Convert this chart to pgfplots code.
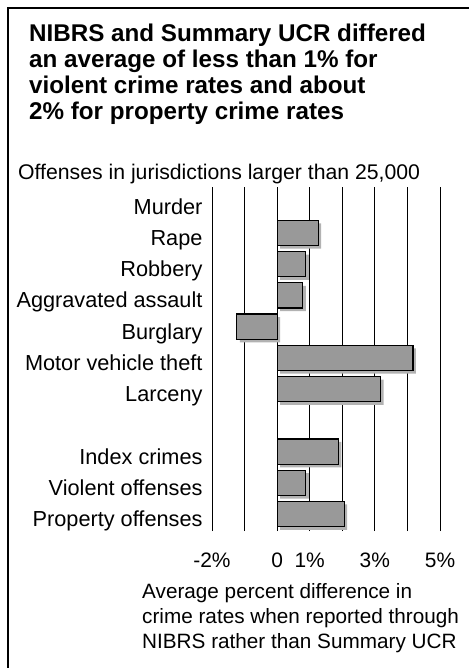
\documentclass[border=0pt]{standalone}
\usepackage{fontspec}
\setmainfont{Liberation Sans}
\usepackage{pgfplots}
\pgfplotsset{compat=1.18}
\begin{document}
\begin{tikzpicture}
\useasboundingbox (0,0) rectangle (469bp,-668bp);
\draw[line width=2bp] (8bp,-680bp) -- (8bp,-8bp) -- (480bp,-8bp);
% title
\begin{scope}[every node/.style={anchor=base west, inner sep=0pt, font=\fontsize{24.3}{26}\selectfont\bfseries}]
\node at (29bp,-41.5bp) {NIBRS and Summary UCR differed};
\node at (29bp,-67.5bp) {an average of less than 1\% for};
\node at (29bp,-93.5bp) {violent crime rates and about};
\node at (29bp,-119.5bp) {2\% for property crime rates};
\end{scope}
\node[anchor=base west, inner sep=0pt, font=\fontsize{21.3}{22}\selectfont] at (18bp,-179.5bp) {Offenses in jurisdictions larger than 25,000};
\begin{scope}[every node/.style={anchor=base west, inner sep=0pt, font=\fontsize{20.8}{22}\selectfont}]
\node at (142bp,-598.5bp) {Average percent difference in};
\node at (142bp,-623.5bp) {crime rates when reported through};
\node at (142bp,-648.5bp) {NIBRS rather than Summary UCR};
\end{scope}
\begin{axis}[
  at={(212bp,-531bp)}, anchor=south west,
  width=228bp, height=344bp, scale only axis,
  xmin=-2, xmax=5, ymin=-0.54, ymax=10.47,
  xbar, bar width=0.81, bar shift=0pt,
  axis line style={draw=none},
  major tick length=0pt,
  xtick={-2,-1,0,1,2,3,4,5},
  xticklabels={-2\%,,0,1\%,,3\%,,5\%},
  xmajorgrids, major grid style={black, line width=0.9bp},
  ytick={0,1,2,4,5,6,7,8,9,10},
  yticklabels={Property offenses,Violent offenses\hspace{2bp},Index crimes\hspace{3bp},Larceny\hspace{5bp},Motor vehicle theft,Burglary\hspace{10bp},Aggravated assault\hspace{2bp},Robbery\hspace{6bp},Rape\hspace{9bp},Murder\hspace{10bp}},
  tick label style={font=\fontsize{21}{21}\selectfont},
  xticklabel style={anchor=base, yshift=-36.5bp},
  yticklabel style={anchor=base east, yshift=-12.5bp, xshift=-6bp, font=\fontsize{21.8}{22}\selectfont},
  clip=false,
]
\addplot[fill=black!30, draw=none, xshift=3bp, yshift=-3bp, forget plot] coordinates {(1.26,9) (0.88,8) (0.79,7) (-1.24,6) (4.17,5) (3.18,4) (1.88,2) (0.88,1) (2.06,0)};
\addplot[fill=black!40, draw=black, line width=1.2bp] coordinates {(1.26,9) (0.88,8) (0.79,7) (-1.24,6) (4.17,5) (3.18,4) (1.88,2) (0.88,1) (2.06,0)};
\end{axis}
\end{tikzpicture}
\end{document}
